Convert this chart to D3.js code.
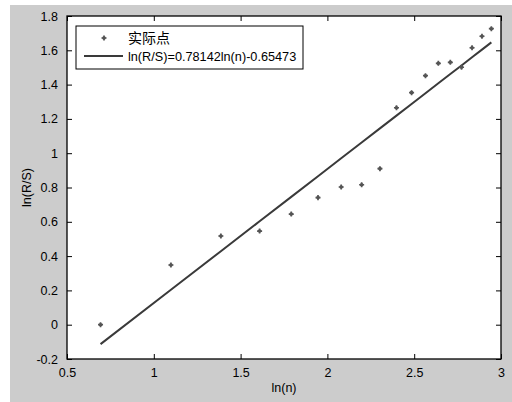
<!DOCTYPE html>
<html>
<head>
<meta charset="utf-8">
<script src="https://cdn.jsdelivr.net/npm/d3@7"></script>
<style>
body{margin:0;background:#fff;}
text{font-family:"Liberation Sans",Arial,sans-serif;}
</style>
</head>
<body>
<svg id="svg" width="512" height="402"></svg>
<script>
// n = 2..19, x = ln(n)
var nValues = [2,3,4,5,6,7,8,9,10,11,12,13,14,15,16,17,18,19];
var lnRS = [0.0,0.348,0.517,0.546,0.645,0.741,0.803,0.816,0.910,1.265,1.353,1.452,1.524,1.530,1.501,1.615,1.682,1.726];
var fitSlope = 0.78142, fitIntercept = -0.65473;
var xTicks = [0.5,1,1.5,2,2.5,3];
var yTicks = [-0.2,0,0.2,0.4,0.6,0.8,1,1.2,1.4,1.6,1.8];
var legendLabels = ["实际点","ln(R/S)=0.78142ln(n)-0.65473"];

var svg = d3.select("#svg");
var L=67,R=501,T=16,B=359;

svg.append("rect").attr("x",10).attr("y",5).attr("width",502).attr("height",397).attr("fill","#cccccc");
svg.append("rect").attr("x",L).attr("y",T).attr("width",R-L).attr("height",B-T).attr("fill","#fff");

var x = d3.scaleLinear().domain([0.5,3]).range([L,R]);
var y = d3.scaleLinear().domain([-0.2,1.8]).range([B,T]);

// matlab style labels, plain hyphen minus
var fmt = function(d){return String(+d.toFixed(1));};

function axis(gen,tx,ty,labels){
	var g = svg.append("g").attr("transform","translate("+tx+","+ty+")").call(gen);
	g.select(".domain").remove();
	g.selectAll("line").attr("stroke","#000");
	g.selectAll("text").attr("fill","#000").style("font-size","12.5px");
	if(!labels)g.selectAll("text").remove();
	return g;
}
axis(d3.axisBottom(x).tickValues(xTicks).tickSize(-5).tickPadding(9).tickFormat(fmt),0,B,true);
axis(d3.axisTop(x).tickValues(xTicks).tickSize(-5),0,T,false);
axis(d3.axisLeft(y).tickValues(yTicks).tickSize(-5).tickPadding(9).tickFormat(fmt),L,0,true);
axis(d3.axisRight(y).tickValues(yTicks).tickSize(-5),R,0,false);

svg.append("rect").attr("x",L).attr("y",T).attr("width",R-L).attr("height",B-T)
	.attr("fill","none").attr("stroke","#000").attr("stroke-width",1.3);

var lx = nValues.map(function(n){return Math.log(n);});

// fitted line
var line = d3.line().x(function(d){return x(d);}).y(function(d){return y(fitSlope*d+fitIntercept);});
svg.append("path").attr("d",line(lx)).attr("fill","none").attr("stroke","#3a3a3a").attr("stroke-width",2);

// actual points (small dot marker)
function marker(sel){
	sel.append("circle").attr("r",1.8).attr("fill","#444");
	sel.append("path").attr("d",d3.symbol().type(d3.symbolCross).size(14)()).attr("fill","#555");
}
svg.selectAll(".pt").data(lx).enter().append("g").attr("class","pt")
	.attr("transform",function(d,i){return "translate("+x(d)+","+y(lnRS[i])+")";})
	.call(marker);

// axis labels
svg.append("text").attr("x",(L+R)/2).attr("y",392).attr("text-anchor","middle").style("font-size","12.5px").text("ln(n)");
svg.append("text").attr("transform","translate(31,"+((T+B)/2)+") rotate(-90)").attr("text-anchor","middle").style("font-size","12.5px").text("ln(R/S)");

// legend
var lg = svg.append("g");
lg.append("rect").attr("x",76).attr("y",26).attr("width",227).attr("height",43).attr("fill","#fff").attr("stroke","#000").attr("stroke-width",1);
lg.append("g").attr("transform","translate(104,38)").call(marker);
lg.append("line").attr("x1",84).attr("x2",123).attr("y1",56).attr("y2",56).attr("stroke","#3a3a3a").attr("stroke-width",2);
lg.append("text").attr("x",128).attr("y",43).style("font-family","'Noto Sans CJK SC',sans-serif").style("font-size","14px").text(legendLabels[0]);
lg.append("text").attr("x",128).attr("y",61).style("font-size","12.7px").text(legendLabels[1]);
</script>
</body>
</html>
